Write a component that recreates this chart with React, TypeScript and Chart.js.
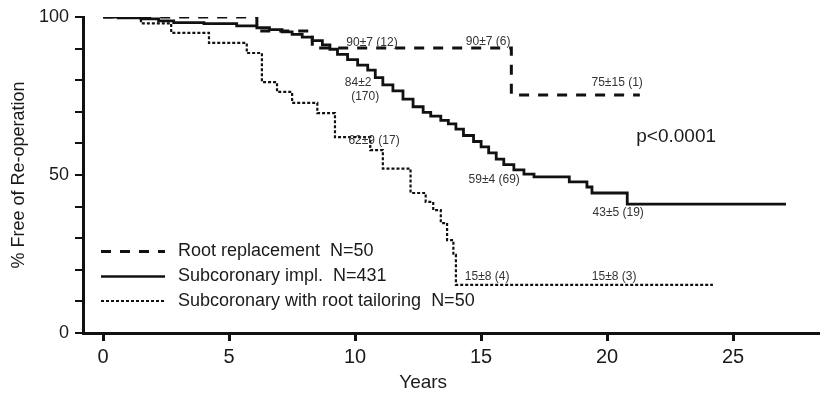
import React, { useEffect, useRef } from "react";
import { Chart, registerables } from "chart.js";

Chart.register(...registerables);

const FONT = "'Liberation Sans', Arial, Helvetica, sans-serif";

// Root replacement N=50 (dashed)
const rootYears = [0, 6.1, 8.3, 16.2, 21.3];
const rootFree = [100, 95.6, 90.2, 75.3, 75.3];

// Subcoronary implantation N=431 (solid)
const subYears = [0, 0.6, 1.5, 2.2, 2.8, 4.0, 5.3, 6.1, 6.6, 7.1, 7.5, 7.9, 8.3, 8.7, 9.0, 9.3, 9.7, 10.1, 10.5, 10.8, 11.1, 11.5, 11.9, 12.3, 12.7, 13.0, 13.4, 13.7, 14.0, 14.3, 14.7, 15.0, 15.3, 15.6, 15.9, 16.3, 16.7, 17.1, 18.5, 19.2, 19.4, 20.8, 27.1];
const subFree = [100, 99.7, 99.4, 98.8, 98.2, 97.9, 97.2, 96.6, 96.0, 95.3, 94.5, 93.6, 92.5, 91.2, 89.8, 88.2, 86.5, 84.8, 83.2, 80.8, 78.5, 76.6, 74.0, 71.6, 69.8, 68.6, 67.3, 66.2, 64.5, 62.5, 60.6, 58.9, 57.0, 55.0, 53.3, 51.6, 50.3, 49.4, 47.8, 46.2, 44.3, 40.8, 40.8];

// Subcoronary with root tailoring N=50 (dotted)
const tailYears = [0, 1.5, 2.7, 4.2, 5.7, 6.3, 6.9, 7.5, 8.5, 9.2, 10.6, 11.1, 12.2, 12.8, 13.1, 13.4, 13.65, 13.9, 14.0, 24.2];
const tailFree = [100, 98, 95, 91.8, 88.6, 79.4, 76.3, 72.8, 69.6, 62, 57.9, 52, 44.3, 41.5, 38.9, 34.8, 29.4, 24.7, 15.2, 15.2];

const seriesLabels = [
  "Root replacement  N=50",
  "Subcoronary impl.  N=431",
  "Subcoronary with root tailoring  N=50",
];

const xTickValues = [0, 5, 10, 15, 20, 25];
const yTickValues = [0, 10, 20, 30, 40, 50, 60, 70, 80, 90, 100];
const yLabelled = [0, 50, 100];

// Annotation labels (data coordinates)
const annYears = [10.67, 15.28, 20.4, 10.12, 10.4, 10.75, 15.52, 20.44, 15.24, 20.28];
const annFree = [91.8, 92.1, 79.1, 79.1, 74.7, 60.8, 48.4, 38.0, 17.7, 17.7];
const annTexts = ["90±7 (12)", "90±7 (6)", "75±15 (1)", "84±2", "(170)", "62±9 (17)", "59±4 (69)", "43±5 (19)", "15±8 (4)", "15±8 (3)"];

const pYear = 22.74;
const pFree = 62;
const pText = "p<0.0001";

const toPts = (xs: number[], ys: number[]) => xs.map((x, i) => ({ x, y: ys[i] }));

const overlayPlugin = {
  id: "overlay",
  afterDatasetsDraw(chart: any) {
    const { ctx, chartArea, scales } = chart;
    const xs = scales.x;
    const ys = scales.y;
    ctx.save();
    ctx.fillStyle = "#333";
    ctx.textAlign = "center";
    ctx.textBaseline = "middle";
    ctx.font = `12px ${FONT}`;
    annTexts.forEach((t, i) => {
      ctx.fillText(t, xs.getPixelForValue(annYears[i]), ys.getPixelForValue(annFree[i]));
    });
    ctx.fillStyle = "#1a1a1a";
    ctx.font = `19px ${FONT}`;
    ctx.fillText(pText, xs.getPixelForValue(pYear), ys.getPixelForValue(pFree));

    // legend
    const dashes = [[10, 9], [], [3, 2]];
    const widths = [3, 2.5, 2];
    const legendY = [ys.getPixelForValue(25.8), ys.getPixelForValue(17.9), ys.getPixelForValue(10.1)];
    const lx0 = chartArea.left + 18;
    const lx1 = chartArea.left + 82;
    ctx.strokeStyle = "#111";
    seriesLabels.forEach((lab, i) => {
      ctx.beginPath();
      ctx.setLineDash(dashes[i]);
      ctx.lineWidth = widths[i];
      ctx.moveTo(lx0, legendY[i]);
      ctx.lineTo(lx1, legendY[i]);
      ctx.stroke();
      ctx.setLineDash([]);
      ctx.fillStyle = "#1a1a1a";
      ctx.textAlign = "left";
      ctx.font = `18px ${FONT}`;
      ctx.fillText(lab, chartArea.left + 95, legendY[i]);
    });

    // x title
    ctx.textAlign = "center";
    ctx.font = `19px ${FONT}`;
    ctx.fillText("Years", xs.getPixelForValue(12.7), chartArea.bottom + 50);
    ctx.restore();
  },
};

export default function App() {
  const ref = useRef<HTMLCanvasElement | null>(null);
  useEffect(() => {
    if (!ref.current) return;
    const chart = new Chart(ref.current, {
      type: "line",
      data: {
        datasets: [
          { label: seriesLabels[0], data: toPts(rootYears, rootFree), borderColor: "#111", borderWidth: 3, borderDash: [10, 9], stepped: "before", pointRadius: 0, fill: false },
          { label: seriesLabels[1], data: toPts(subYears, subFree), borderColor: "#111", borderWidth: 2.8, stepped: "before", pointRadius: 0, fill: false },
          { label: seriesLabels[2], data: toPts(tailYears, tailFree), borderColor: "#111", borderWidth: 2.2, borderDash: [3, 2], stepped: "before", pointRadius: 0, fill: false },
        ],
      },
      options: {
        responsive: false,
        animation: false,
        layout: { padding: { top: 17, right: 0, left: 0, bottom: 0 } },
        plugins: { legend: { display: false }, tooltip: { enabled: false } },
        scales: {
          x: {
            type: "linear",
            min: -0.8,
            max: 28.45,
            afterBuildTicks: (s: any) => { s.ticks = xTickValues.map((v) => ({ value: v })); },
            afterFit: (s: any) => { s.height = 60; },
            grid: { drawOnChartArea: false, tickLength: 8, lineWidth: 3, color: "#111" },
            border: { width: 3, color: "#111" },
            ticks: { font: { size: 20, family: FONT }, color: "#1a1a1a", padding: 4, maxRotation: 0 },
          },
          y: {
            min: 0,
            max: 100,
            afterBuildTicks: (s: any) => { s.ticks = yTickValues.map((v) => ({ value: v })); },
            afterFit: (s: any) => { s.width = 83; },
            grid: { drawOnChartArea: false, tickLength: 8, lineWidth: 2, color: "#111" },
            border: { width: 3, color: "#111" },
            ticks: {
              font: { size: 18, family: FONT },
              color: "#1a1a1a",
              padding: 6,
              callback: (v: any) => (yLabelled.includes(Number(v)) ? String(v) : ""),
            },
            title: { display: true, text: "% Free of Re-operation", font: { size: 18, family: FONT }, color: "#1a1a1a", padding: { top: 8, bottom: 0 } },
          },
        },
      },
      plugins: [overlayPlugin],
    });
    return () => chart.destroy();
  }, []);
  return (
    <div style={{ position: "absolute", left: 0, top: 0, width: 820, height: 393, background: "#fff" }}>
      <canvas ref={ref} width={820} height={393} />
    </div>
  );
}
